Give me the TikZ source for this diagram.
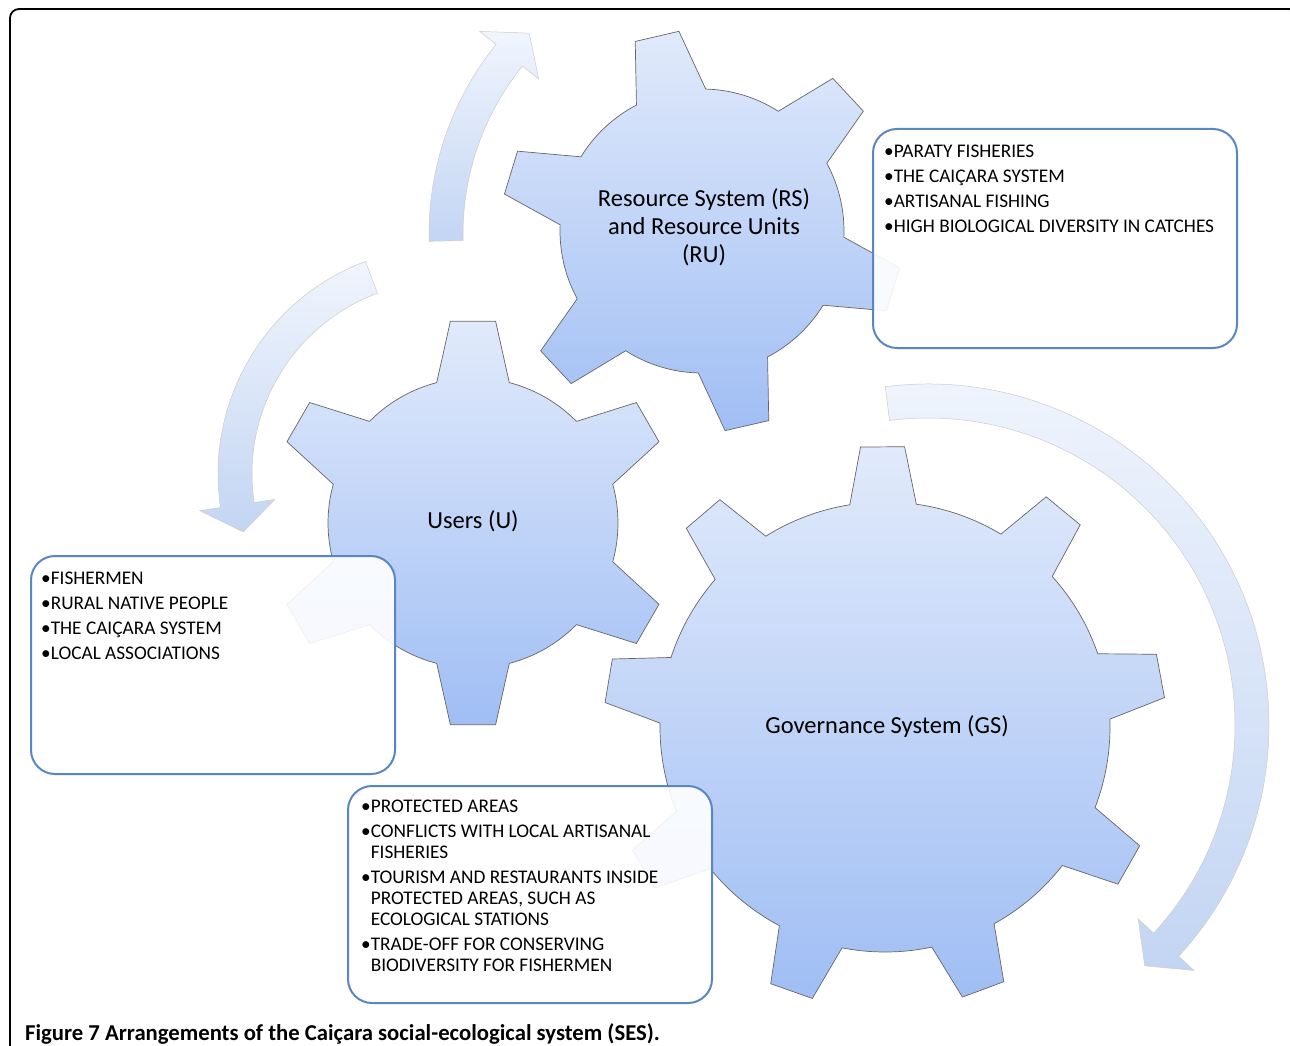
\documentclass[tikz,border=0pt]{standalone}
\usepackage{fontspec}
\setmainfont{Carlito}

\definecolor{gearTop}{HTML}{E1EAFB}
\definecolor{gearBottom}{HTML}{A0BEF4}
\definecolor{arrowTop}{HTML}{F0F5FD}
\definecolor{arrowBottom}{HTML}{C3D5F3}
\definecolor{boxBorder}{HTML}{5A86C2}

\tikzset{
  cog/.style={draw=black!60, line width=0.7pt, top color=gearTop, bottom color=gearBottom},
  bentshape/.style={draw=black!20, line width=0.5pt, top color=arrowTop, bottom color=arrowBottom},
  infobox/.style={draw=boxBorder, line width=2pt, rounded corners=24pt, fill=white, fill opacity=0.9, inner sep=0pt},
  listtext/.style={align=left, inner sep=0pt, font=\fontsize{19.3}{21}\selectfont},
  cogtext/.style={align=center, inner sep=0pt, font=\fontsize{24.5}{28}\selectfont},
}

% #1 centre, #2 root radius, #3 tip radius, #4 teeth, #5 first tooth, #6 half base, #7 half tip
\newcommand{\cogwheel}[7]{%
  \begin{scope}[shift={(#1)}]
    \pgfmathsetmacro\cogstep{360/#4}
    \pgfmathtruncatemacro\coglast{#4-1}
    \draw[cog] ({#5-#6}:#2)
      \foreach \k in {0,...,\coglast} {
        -- ({#5+\k*\cogstep-#7}:#3) -- ({#5+\k*\cogstep+#7}:#3)
        -- ({#5+\k*\cogstep+#6}:#2)
        arc[start angle={#5+\k*\cogstep+#6}, end angle={#5+(\k+1)*\cogstep-#6}, radius=#2]
      } -- cycle;
  \end{scope}}

% #1 centre, #2 radius, #3 tail angle, #4 head angle, #5 tip angle
\newcommand{\bentarrow}[5]{%
  \begin{scope}[shift={(#1)}]
    \draw[bentshape] (#3:#2+17) arc[start angle=#3, end angle=#4, radius=#2+17]
      -- (#4:#2+38) -- (#5:#2) -- (#4:#2-38) -- (#4:#2-17)
      arc[start angle=#4, end angle=#3, radius=#2-17] -- cycle;
  \end{scope}}

\begin{document}
\begin{tikzpicture}[x=1pt, y=1pt]
  \clip (0,0) rectangle (1290,-1046);
  \fill[white] (0,0) rectangle (1290,-1046);
  \draw[line width=1.8pt, rounded corners=9pt] (10,-9) rectangle (1298,-1070);

  % arrows
  \bentarrow{730,-234}{284}{181.4}{141}{135}
  \bentarrow{445,-474}{210}{110.5}{188.5}{196}
  \bentarrow{928,-725}{324}{97.2}{-42.7}{-48}

  % gears
  \cogwheel{885,-727}{225}{281}{9}{90.5}{8.5}{4.5}
  \cogwheel{473,-523}{145}{203}{6}{90}{14.5}{6.4}
  \cogwheel{702,-231}{142}{201}{6}{103}{14.5}{6.4}

  \node[cogtext] (rs) at (704,-227) {Resource System (RS)\\and Resource Units\\(RU)};
  \node[cogtext] (users) at (473,-521) {Users (U)};
  \node[cogtext] (gs) at (887,-727) {Governance System (GS)};

  % boxes
  \node[infobox, minimum width=364pt, minimum height=219pt, anchor=north west] (rsbox) at (872,-128) {};
  \node[infobox, minimum width=364pt, minimum height=218pt, anchor=north west] (ubox) at (30,-555) {};
  \node[infobox, minimum width=364pt, minimum height=217pt, anchor=north west] (gsbox) at (347,-785) {};

  \node[listtext, anchor=north west] (rslist) at (884,-145) {•PARATY FISHERIES\\[4pt]
    •THE CAIÇARA SYSTEM\\[4pt]
    •ARTISANAL FISHING\\[4pt]
    •HIGH BIOLOGICAL DIVERSITY IN CATCHES};
  \node[listtext, anchor=north west] (ulist) at (41,-572) {•FISHERMEN\\[4pt]
    •RURAL NATIVE PEOPLE\\[4pt]
    •THE CAIÇARA SYSTEM\\[4pt]
    •LOCAL ASSOCIATIONS};
  \node[listtext, anchor=north west] (gslist) at (361,-800) {•PROTECTED AREAS\\[4pt]
    •CONFLICTS WITH LOCAL ARTISANAL\\
    \hphantom{•}FISHERIES\\[4pt]
    •TOURISM AND RESTAURANTS INSIDE\\
    \hphantom{•}PROTECTED AREAS, SUCH AS\\
    \hphantom{•}ECOLOGICAL STATIONS\\[4pt]
    •TRADE-OFF FOR CONSERVING\\
    \hphantom{•}BIODIVERSITY FOR FISHERMEN};

  \node[anchor=base west, inner sep=0pt, font=\fontsize{22.7}{26}\selectfont\bfseries] (caption) at (25,-1040)
    {Figure 7 Arrangements of the Caiçara social-ecological system (SES).};
\end{tikzpicture}
\end{document}
